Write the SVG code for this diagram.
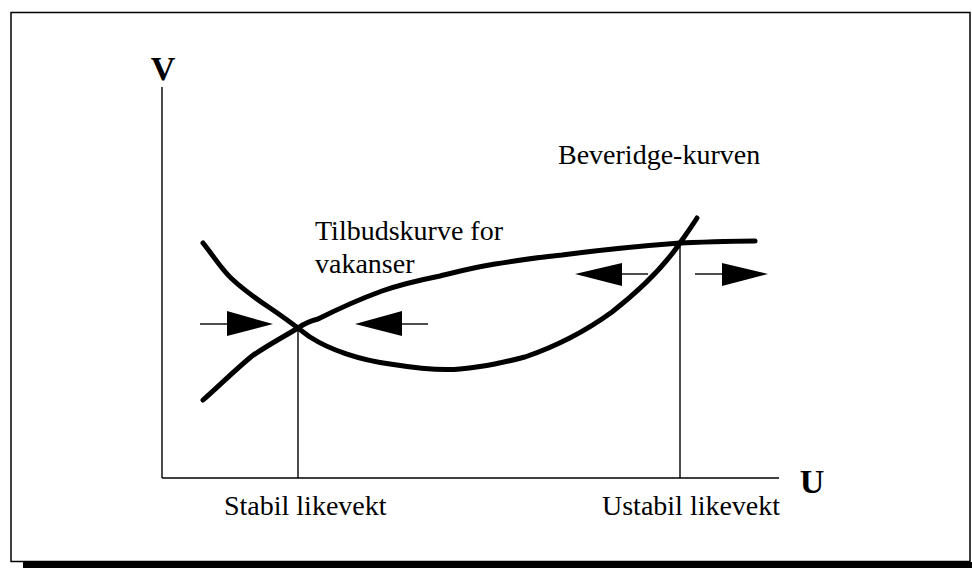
<svg xmlns="http://www.w3.org/2000/svg" width="972" height="568" viewBox="0 0 972 568">
<style>
.t{font-family:"Liberation Serif","Times New Roman",serif;font-size:28px;fill:#000}
.b{font-family:"Liberation Serif","Times New Roman",serif;font-size:34px;font-weight:bold;fill:#000}
.ax{stroke:#000;stroke-width:1.4;fill:none}
.cv{stroke:#000;stroke-width:5;fill:none;stroke-linecap:round;stroke-linejoin:round}
.ar{fill:#000}
</style>
<rect x="0" y="0" width="972" height="568" fill="#fff"/>
<g id="frame">
<rect x="11" y="12.5" width="959" height="549" fill="none" stroke="#000" stroke-width="1.5"/>
<rect x="23" y="562" width="949" height="6" fill="#000"/>
</g>
<g id="axes">
<line class="ax" x1="162" y1="87" x2="162" y2="478"/>
<line class="ax" x1="162" y1="478" x2="779" y2="478"/>
<text class="b" x="163" y="80" text-anchor="middle">V</text>
<text class="b" x="812" y="493" text-anchor="middle">U</text>
</g>
<g id="connectors">
<line class="ax" x1="298" y1="328" x2="298" y2="478"/>
<line class="ax" x1="680" y1="243" x2="680" y2="478"/>
<line class="ax" x1="200" y1="324" x2="228" y2="324"/>
<polygon class="ar" points="227,311 273,324 227,336"/>
<line class="ax" x1="401" y1="324" x2="428" y2="324"/>
<polygon class="ar" points="355,324 402,311 402,336"/>
<line class="ax" x1="621" y1="274" x2="648" y2="274"/>
<polygon class="ar" points="575,274 622,263 622,286"/>
<line class="ax" x1="695" y1="274" x2="723" y2="274"/>
<polygon class="ar" points="722,263 768,274 722,286"/>
</g>
<g id="beveridge">
<path class="cv" d="M203,243 C215,258 222,270 232,279 C245,291 258,300 270,308 C285,318 298,328 310,337 C330,350 360,360 390,364 C415,368 440,371 460,369 C490,366 505,362 525,357 C560,345 590,328 612,312 C640,290 665,265 680,243 C687,233 692,226 697,218"/>
<text class="t" x="558" y="164">Beveridge-kurven</text>
</g>
<g id="tilbud">
<path class="cv" d="M203,400 C220,385 235,370 252,356 C268,345 285,336 298,328 C305,323 310,321 318,319 C340,308 360,299 382,291 C402,284 420,280 440,276 C460,271 475,267 495,264 C520,260 540,257 562,255 C600,250 640,246 680,243 C705,242 730,241 755,241"/>
<text class="t" x="315" y="240">Tilbudskurve for</text>
<text class="t" x="315" y="273">vakanser</text>
</g>
<g id="labels">
<text class="t" x="224" y="515">Stabil likevekt</text>
<text class="t" x="602" y="515">Ustabil likevekt</text>
</g>
</svg>
